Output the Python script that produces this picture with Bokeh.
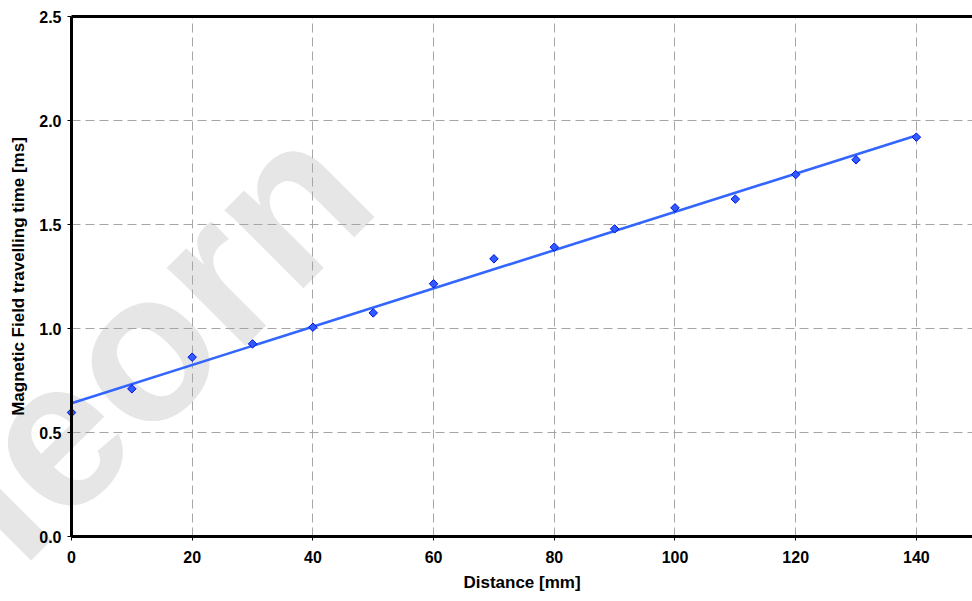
import numpy as np
from bokeh.plotting import figure
from bokeh.models import LinearAxis, FixedTicker, PrintfTickFormatter, Range1d, ColumnDataSource
from bokeh.core.properties import value
from bokeh.embed import file_html
from bokeh.resources import INLINE

# ---- data ----
distance_mm = [0, 10, 20, 30, 40, 50, 60, 70, 80, 90, 100, 110, 120, 130, 140]
travel_time_ms = [0.596, 0.710, 0.862, 0.926, 1.006, 1.075, 1.215, 1.335,
                  1.391, 1.479, 1.580, 1.622, 1.740, 1.811, 1.920]
x_ticks = [0, 20, 40, 60, 80, 100, 120, 140]
y_ticks = [0.0, 0.5, 1.0, 1.5, 2.0, 2.5]
x_title = "Distance [mm]"
y_title = "Magnetic Field travelling time [ms]"
watermark_text = ["leorn"]

# linear trend line fitted to the measured points
slope, intercept = np.polyfit(distance_mm, travel_time_ms, 1)
trend_x = [distance_mm[0], distance_mm[-1]]
trend_y = [intercept + slope * v for v in trend_x]

FONT = "Liberation Sans"

p = figure(width=972, height=601, output_backend="svg", toolbar_location=None,
           x_range=Range1d(0, 149.3), y_range=Range1d(0, 2.5),
           min_border_left=71, min_border_right=0, min_border_top=16, min_border_bottom=65,
           x_axis_label=x_title, y_axis_label=y_title)
p.outline_line_color = None
p.background_fill_color = "white"
p.border_fill_color = "white"

# watermark (light grey, beneath grid, data and axes; anchor in plot units)
wm = p.text(x=[-16.9], y=[0.082], text=watermark_text, angle=np.pi / 4,
            text_font=value(FONT), text_font_style="bold", text_font_size=value("210px"),
            text_color="#e6e6e6", text_align="left", text_baseline="alphabetic")
wm.level = "annotation"

# grid
xg, yg = p.xgrid[0], p.ygrid[0]
for g, t in ((xg, x_ticks), (yg, y_ticks)):
    g.ticker = FixedTicker(ticks=t)
    g.grid_line_color = "#a6a6a6"
    g.grid_line_dash = "9 5"
    g.grid_line_width = 1
    g.level = "annotation"

# axes
p.xaxis.ticker = FixedTicker(ticks=x_ticks)
p.yaxis.ticker = FixedTicker(ticks=y_ticks)
p.yaxis.formatter = PrintfTickFormatter(format="%.1f")
for ax in (p.xaxis[0], p.yaxis[0]):
    ax.level = "overlay"
    ax.axis_line_width = 3
    ax.axis_line_color = "black"
    ax.major_tick_line_color = "black"
    ax.major_tick_line_width = 1
    ax.major_tick_out = 4
    ax.major_tick_in = 0
    ax.minor_tick_out = 0
    ax.minor_tick_in = 0
    ax.major_label_text_font = FONT
    ax.major_label_text_font_style = "bold"
    ax.major_label_text_font_size = "16px"
    ax.major_label_text_color = "black"
    ax.axis_label_text_font = FONT
    ax.axis_label_text_font_style = "bold"
    ax.axis_label_text_font_size = "17px"
    ax.axis_label_text_color = "black"
p.xaxis.major_label_standoff = 10
p.xaxis.axis_label_standoff = 7
p.yaxis.major_label_standoff = 6
p.yaxis.axis_label_standoff = 8

top = LinearAxis(ticker=FixedTicker(ticks=[]), axis_line_width=3, axis_line_color="black",
                 major_tick_out=0, major_tick_in=0, minor_tick_out=0, minor_tick_in=0,
                 major_label_text_font_size="0px", level="overlay")
p.add_layout(top, "above")

# data
src = ColumnDataSource(dict(x=distance_mm, y=travel_time_ms))
line = p.line(trend_x, trend_y, line_color="#3366ff", line_width=2.6)
line.level = "overlay"
pts = p.scatter("x", "y", source=src, marker="square", angle=np.pi / 4, size=6,
                fill_color="#2f5bff", line_color="#0010e0", line_width=1)
pts.level = "overlay"

# draw order: watermark, then grid, then (axes and) data
p.center = [c for c in p.center if c is not xg and c is not yg]
p.renderers = [wm, xg, yg, line, pts]

open("out.html", "w").write(file_html(p, INLINE))
